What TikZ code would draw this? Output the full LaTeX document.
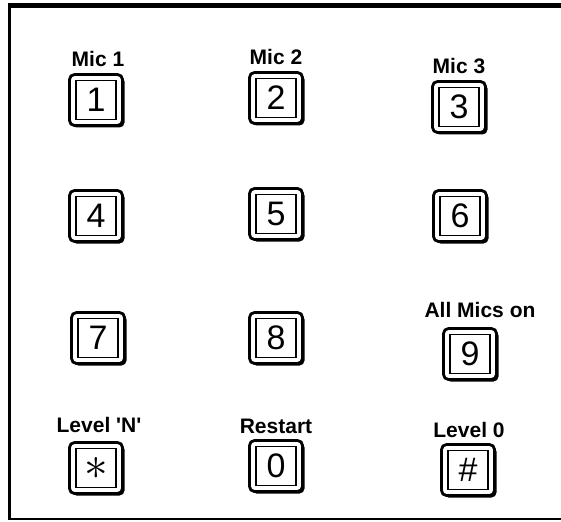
\documentclass[tikz,border=0pt]{standalone}
\usepackage{fontspec}
\setmainfont{Liberation Sans}
\usetikzlibrary{shadows}
\begin{document}
\begin{tikzpicture}[x=1pt, y=-1pt,
	keyout/.style={ draw, fill=white, line width=2.8pt, rounded corners=5pt, minimum width=53pt, minimum height=51pt, inner sep=0pt,
		drop shadow={ shadow xshift=2pt, shadow yshift=-2pt, fill=black, opacity=1 } },
	keyin/.style={ draw, line width=1.5pt, minimum width=40pt, minimum height=39pt, inner sep=0pt, font=\fontsize{34}{34}\selectfont },
	keylabel/.style={ font=\bfseries\fontsize{21}{21}\selectfont, anchor=base, inner sep=0pt }
]
\useasboundingbox (0,0) rectangle (561,521);

% frame
\draw[line width=5pt] (8,5.5) to (561,5.5);
\draw[line width=2.4pt] (9.5,3) to (9.5,520);
\draw[line width=1.8pt] (9,519) to (561,519);

% row 1
\node[keylabel] at (98,67) (mic1) {Mic 1};
\node[keylabel] at (276,65) (mic2) {Mic 2};
\node[keylabel] at (459,74) (mic3) {Mic 3};
\node[keyout] at (96,100) (k1) {};
\node[keyin] at (k1) (k1i) {1};
\node[keyout] at (276,98) (k2) {};
\node[keyin] at (k2) (k2i) {2};
\node[keyout] at (459,107) (k3) {};
\node[keyin] at (k3) (k3i) {3};

% row 2
\node[keyout] at (96,216) (k4) {};
\node[keyin] at (k4) (k4i) {4};
\node[keyout] at (276,214) (k5) {};
\node[keyin] at (k5) (k5i) {5};
\node[keyout] at (460,216) (k6) {};
\node[keyin] at (k6) (k6i) {6};

% row 3
\node[keylabel] at (480,317) (allmics) {All Mics on};
\node[keyout] at (98,338) (k7) {};
\node[keyin] at (k7) (k7i) {7};
\node[keyout] at (276,338) (k8) {};
\node[keyin] at (k8) (k8i) {8};
\node[keyout] at (470,354) (k9) {};
\node[keyin] at (k9) (k9i) {9};

% row 4
\node[keylabel] at (99,432) (levn) {Level \textquotesingle N\textquotesingle};
\node[keylabel] at (276,433) (restart) {Restart};
\node[keylabel] at (469,437) (lev0) {Level 0};
\node[keyout] at (96,468) (kst) {};
\node[keyin] at (kst) (ksti) {\scalebox{1.9}{$\ast$}};
\node[keyout] at (276,466) (k0) {};
\node[keyin] at (k0) (k0i) {0};
\node[keyout] at (468,470) (kha) {};
\node[keyin] at (kha) (khai) {\#};

\end{tikzpicture}
\end{document}
